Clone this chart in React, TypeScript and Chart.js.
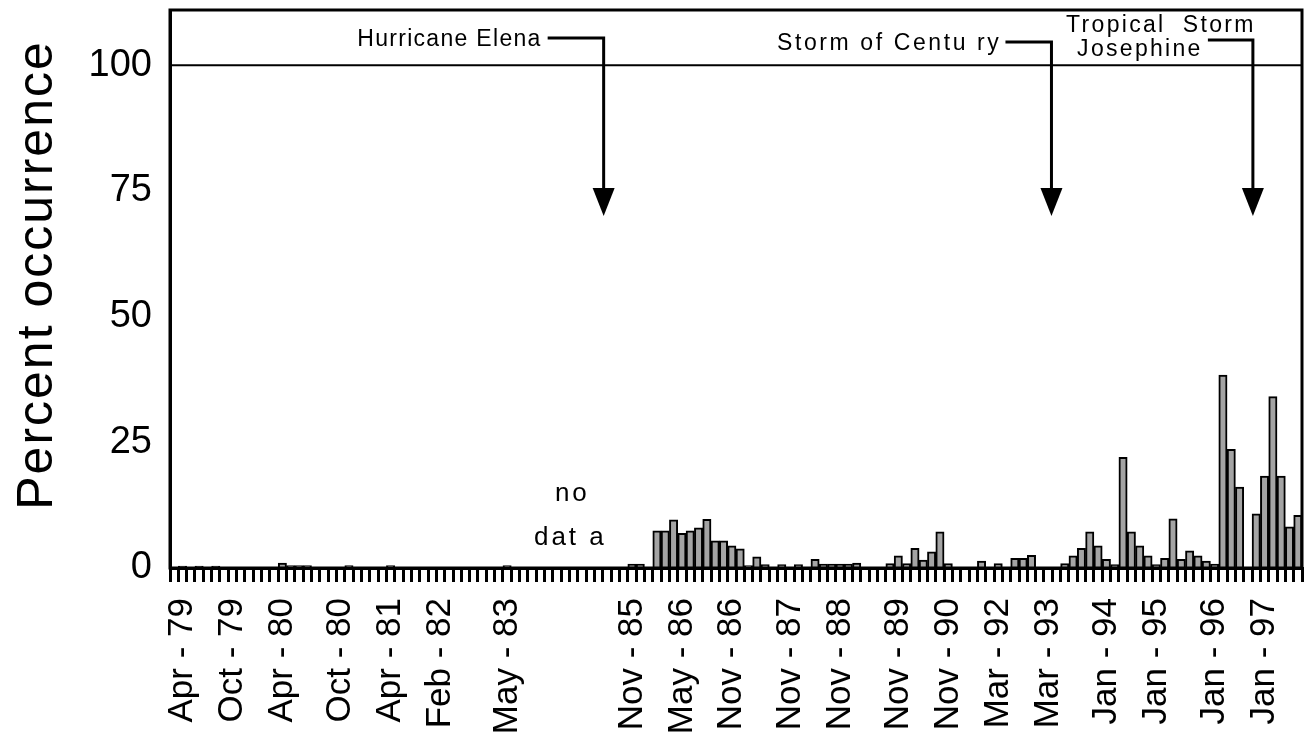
import React, { useEffect, useRef } from 'react';
import { Chart, registerables } from 'chart.js';

Chart.register(...registerables);

// ---- data ----
const values: number[] = [
  0, 0.4, 0, 0.4, 0, 0.4, 0, 0, 0, 0, // 0-9
  0, 0, 0, 1.0, 0.5, 0.5, 0.5, 0, 0, 0, // 10-19
  0, 0.5, 0, 0, 0, 0, 0.5, 0, 0, 0, // 20-29
  0, 0, 0, 0, 0, 0, 0, 0, 0, 0, // 30-39
  0.5, 0, 0, 0, 0, 0, 0, 0, 0, 0, // 40-49
  0, 0, 0, 0, 0, 0.8, 0.8, 0, 7.4, 7.4, // 50-59
  9.6, 6.9, 7.4, 8.0, 9.7, 5.4, 5.4, 4.4, 3.8, 0.5, // 60-69
  2.2, 0.7, 0, 0.7, 0, 0.7, 0, 1.7, 0.8, 0.8, // 70-79
  0.8, 0.8, 1.0, 0, 0, 0, 0.9, 2.4, 0.9, 3.9, // 80-89
  1.6, 3.2, 7.2, 0.9, 0, 0, 0, 1.4, 0, 0.9, // 90-99
  0, 1.9, 1.9, 2.5, 0, 0, 0, 0.9, 2.4, 3.9, // 100-109
  7.2, 4.4, 1.7, 0.7, 22.0, 7.2, 4.4, 2.4, 0.7, 1.9, // 110-119
  9.8, 1.7, 3.4, 2.4, 1.4, 0.8, 38.4, 23.6, 16.1, 0, // 120-129
  10.8, 18.3, 34.1, 18.3, 8.2, 10.5, // 130-135
];

const tickLabels: string[] = [
  'Apr - 79', 'Oct - 79', 'Apr - 80', 'Oct - 80', 'Apr - 81', 'Feb - 82', 'May - 83',
  'Nov - 85', 'May - 86', 'Nov - 86', 'Nov - 87', 'Nov - 88', 'Nov - 89', 'Nov - 90',
  'Mar - 92', 'Mar - 93', 'Jan - 94', 'Jan - 95', 'Jan - 96', 'Jan - 97',
];
const tickPositions: number[] = [1, 7, 13, 20, 26, 32, 40, 55, 61, 67, 74, 80, 87, 93, 99, 105, 112, 118, 125, 131];

const yTicks: number[] = [0, 25, 50, 75, 100];

const eventLabels: string[][] = [['Hurricane Elena'], ['Storm of Centu ry'], ['Tropical  Storm', 'Josephine']];
const eventPositions: number[] = [51.6, 105.4, 129.6];
const eventArrowTip: number = 70;

const noDataLines: string[] = ['no', 'dat a'];
const noDataPosition: number = 47.6;

const categories: string[] = values.map((_, i) => {
  const k = tickPositions.indexOf(i);
  return k >= 0 ? tickLabels[k] : '';
});

const FONT = '"Liberation Sans", Arial, Helvetica, sans-serif';

const annotationPlugin = {
  id: 'annotations',
  afterDraw(chart: any) {
    const { ctx, chartArea } = chart;
    const { left, right, top, bottom } = chartArea;
    const xs = chart.scales.x;
    const ys = chart.scales.y;
    ctx.save();
    ctx.strokeStyle = '#000';
    ctx.fillStyle = '#000';
    // frame
    ctx.lineWidth = 3;
    ctx.strokeRect(left, top, right - left, bottom - top);
    // 100 line
    const y100 = ys.getPixelForValue(100);
    ctx.lineWidth = 2;
    ctx.beginPath();
    ctx.moveTo(left, y100);
    ctx.lineTo(right, y100);
    ctx.stroke();

    // y title
    ctx.save();
    ctx.translate(38, 275);
    ctx.rotate(-Math.PI / 2);
    ctx.font = `50px ${FONT}`;
    (ctx as any).letterSpacing = '2px';
    ctx.textAlign = 'center';
    ctx.textBaseline = 'middle';
    ctx.fillText('Percent occurrence', 0, 0);
    ctx.restore();

    // event arrows
    const tipY = ys.getPixelForValue(eventArrowTip);
    const lineYs = [38, 42, 40];
    ctx.font = `23px ${FONT}`;
    ctx.textBaseline = 'middle';
    eventPositions.forEach((p, i) => {
      const ax = xs.getPixelForValue(p);
      const ly = lineYs[i];
      let startX = ax - 56;
      if (i === 0) {
        (ctx as any).letterSpacing = '1.3px';
        ctx.textAlign = 'right';
        ctx.fillText(eventLabels[i][0], ax - 62, 40);
        startX = ax - 56;
      } else if (i === 1) {
        (ctx as any).letterSpacing = '2.6px';
        ctx.textAlign = 'right';
        ctx.fillText(eventLabels[i][0], ax - 50, 44);
        startX = ax - 46;
      } else {
        (ctx as any).letterSpacing = '2.3px';
        ctx.textAlign = 'center';
        ctx.fillText(eventLabels[i][0], ax - 92, 26);
        ctx.fillText(eventLabels[i][1], ax - 113, 50);
        startX = ax - 45;
      }
      ctx.lineWidth = 3;
      ctx.beginPath();
      ctx.moveTo(startX, ly);
      ctx.lineTo(ax, ly);
      ctx.lineTo(ax, tipY - 26);
      ctx.stroke();
      ctx.beginPath();
      ctx.moveTo(ax - 11, tipY - 28);
      ctx.lineTo(ax + 11, tipY - 28);
      ctx.lineTo(ax, tipY);
      ctx.closePath();
      ctx.fill();
    });

    // no data
    ctx.font = `26px ${FONT}`;
    (ctx as any).letterSpacing = '3px';
    ctx.textAlign = 'center';
    const nx = xs.getPixelForValue(noDataPosition);
    ctx.fillText(noDataLines[0], nx + 2, ys.getPixelForValue(14.7));
    ctx.fillText(noDataLines[1], nx, ys.getPixelForValue(6.1));
    ctx.restore();
  },
};

export default function App() {
  const ref = useRef<HTMLCanvasElement | null>(null);

  useEffect(() => {
    if (!ref.current) return;
    const chart = new Chart(ref.current, {
      type: 'bar',
      data: {
        labels: categories,
        datasets: [
          {
            data: values,
            backgroundColor: '#a4a4a4',
            borderColor: '#000',
            borderWidth: 2,
            barPercentage: 1,
            categoryPercentage: 1,
          },
        ],
      },
      options: {
        responsive: false,
        animation: false,
        devicePixelRatio: 1,
        events: [],
        layout: { padding: { top: 10, right: 2, left: 0, bottom: 0 } },
        plugins: { legend: { display: false }, tooltip: { enabled: false } },
        scales: {
          x: {
            type: 'category',
            offset: true,
            grid: {
              display: true,
              drawOnChartArea: false,
              drawTicks: true,
              tickLength: 14,
              tickWidth: 3,
              tickColor: '#000',
              color: '#000',
              lineWidth: 3,
              offset: true,
            },
            border: { display: true, color: '#000', width: 3 },
            ticks: {
              autoSkip: false,
              maxRotation: 90,
              minRotation: 90,
              padding: 16,
              color: '#000',
              font: { family: FONT, size: 35 },
            },
            afterFit: (scale: any) => {
              scale.height = 172;
              scale.paddingLeft = 0;
              scale.paddingRight = 0;
            },
          },
          y: {
            type: 'linear',
            min: 0,
            max: 111,
            grid: { display: true, drawOnChartArea: false, drawTicks: false },
            border: { display: true, color: '#000', width: 3 },
            ticks: {
              padding: 18,
              color: '#000',
              font: { family: FONT, size: 38 },
            },
            afterBuildTicks: (scale: any) => {
              scale.ticks = yTicks.map((v) => ({ value: v }));
            },
            afterFit: (scale: any) => {
              scale.width = 170;
              scale.paddingTop = 0;
              scale.paddingBottom = 0;
            },
          },
        },
      },
      plugins: [annotationPlugin],
    });
    return () => chart.destroy();
  }, []);

  return (
    <div style={{ position: 'absolute', left: 0, top: 0, width: 1304, height: 740, background: '#fff' }}>
      <canvas ref={ref} width={1304} height={740} style={{ width: 1304, height: 740, display: 'block' }} />
    </div>
  );
}
